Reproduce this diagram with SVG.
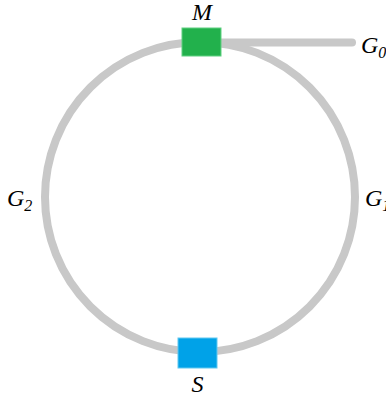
<svg xmlns="http://www.w3.org/2000/svg" width="386" height="397" viewBox="0 0 386 397">
<style>
.wire{fill:none;stroke:#c8c8c8;stroke-width:8;stroke-linecap:round}
.lbl{font-family:"Liberation Serif",serif;font-style:italic;font-size:24px;fill:#000}
.sub{font-size:16px}
</style>
<rect width="386" height="397" fill="#fff"/>
<g id="connectors">
<circle class="wire" cx="200" cy="197" r="155"/>
<line class="wire" x1="210" y1="42.5" x2="352" y2="42.5"/>
</g>
<g id="M">
<rect x="182" y="28" width="39" height="28" fill="#22b14c" stroke="#5fd080" stroke-width="1"/>
<text class="lbl" x="202" y="20" text-anchor="middle">M</text>
</g>
<g id="S">
<rect x="178" y="338" width="39" height="30" fill="#00a2e8" stroke="#60c8f0" stroke-width="1"/>
<text class="lbl" x="197.5" y="392" text-anchor="middle">S</text>
</g>
<g id="G0">
<text class="lbl" x="361" y="53">G<tspan class="sub" dy="5">0</tspan></text>
</g>
<g id="G1">
<text class="lbl" x="365" y="206">G<tspan class="sub" dy="5">1</tspan></text>
</g>
<g id="G2">
<text class="lbl" x="7" y="206">G<tspan class="sub" dy="5">2</tspan></text>
</g>
</svg>
